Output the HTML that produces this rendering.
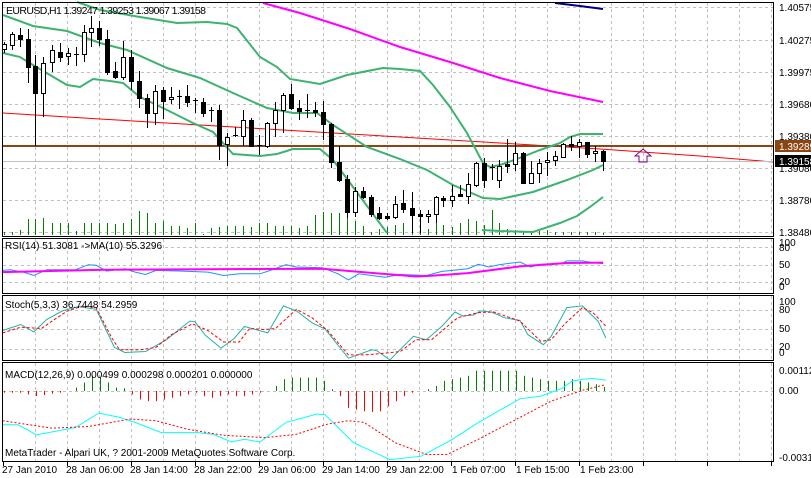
<!DOCTYPE html>
<html><head><meta charset="utf-8"><style>
html,body{margin:0;padding:0;background:#fff;}
svg{display:block;font-family:"Liberation Sans",sans-serif;font-size:10px;}
</style></head><body>
<svg id="s" width="811" height="478" xmlns="http://www.w3.org/2000/svg">
<rect x="0" y="0" width="811" height="478" fill="#fff"/>
<g id="grid"></g>
<g id="vol"></g>
<g id="lines"></g>
<g id="candles"></g>
<g id="ind"></g>
<g fill="none" stroke="#000" stroke-width="1">
<rect x="2.5" y="2.5" width="771" height="234"/>
<rect x="2.5" y="238.5" width="771" height="55"/>
<rect x="2.5" y="295.5" width="771" height="65"/>
<rect x="2.5" y="362.5" width="771" height="99"/>
</g>
<g fill="#000">
<text x="6" y="14" font-size="10.5" textLength="200">EURUSD,H1  1.39247 1.39253 1.39067 1.39158</text>
<text x="5" y="249">RSI(14) 51.3081  -&gt;MA(10) 55.3296</text>
<text x="5" y="308">Stoch(5,3,3) 36.7448 54.2959</text>
<text x="5" y="378">MACD(12,26,9) 0.000499 0.000298 0.000201 0.000000</text>
<text x="5" y="456">MetaTrader - Alpari UK, ? 2001-2009 MetaQuotes Software Corp.</text>
<text x="779" y="11">1.40575</text>
<text x="779" y="44">1.40275</text>
<text x="779" y="76">1.39975</text>
<text x="779" y="108">1.39680</text>
<text x="779" y="140">1.39380</text>
<text x="779" y="172">1.39080</text>
<text x="779" y="204">1.38780</text>
<text x="779" y="236">1.38480</text>
<text x="779" y="246">100</text><text x="779" y="251">80</text><text x="779" y="268">50</text><text x="779" y="285">20</text><text x="779" y="290">0</text>
<text x="779" y="305">100</text><text x="779" y="313">80</text><text x="779" y="332">50</text><text x="779" y="350">20</text><text x="779" y="356">0</text>
<text x="779" y="374">0.00112</text>
<text x="779" y="394">0.00</text>
<text x="779" y="461">-0.00317</text>
</g>
<rect x="775" y="140" width="36" height="12" fill="#8b4513"/>
<text x="779" y="150" fill="#fff">1.39289</text>
<rect x="775" y="155" width="36" height="12" fill="#000"/>
<text x="779" y="165" fill="#fff">1.39158</text>
<g fill="#000" font-size="10">
<text x="2" y="473">27 Jan 2010</text>
<text x="66" y="473">28 Jan 06:00</text>
<text x="130" y="473">28 Jan 14:00</text>
<text x="194" y="473">28 Jan 22:00</text>
<text x="258" y="473">29 Jan 06:00</text>
<text x="322" y="473">29 Jan 14:00</text>
<text x="386" y="473">29 Jan 22:00</text>
<text x="452" y="473">1 Feb 07:00</text>
<text x="516" y="473">1 Feb 15:00</text>
<text x="580" y="473">1 Feb 23:00</text>
</g>
<path d="M639 162 v-6 h-4 l8 -7 l8 7 h-4 v6 z" fill="none" stroke="#800080" stroke-width="1"/>
</svg>
<script>
var NS="http://www.w3.org/2000/svg";
function el(p,t,a){var e=document.createElementNS(NS,t);for(var k in a)e.setAttribute(k,a[k]);document.getElementById(p).appendChild(e);return e;}
function pl(p,pts,col,w,dash){el(p,"polyline",{points:pts.map(function(q){return q[0]+","+q[1]}).join(" "),fill:"none",stroke:col,"stroke-width":w||1,"stroke-dasharray":dash||"none"});}
var g="#c0c0c0";
for(var x=35;x<=771;x+=32){
 [[3,236],[239,293],[296,360],[363,461]].forEach(function(r){el("grid","line",{x1:x+.5,y1:r[0],x2:x+.5,y2:r[1],stroke:g,"stroke-dasharray":"3,3"});});
}
[7,40,72,104,136,168,200,232].forEach(function(y){el("grid","line",{x1:3,y1:y+.5,x2:773,y2:y+.5,stroke:g,"stroke-dasharray":"3,3"});});
[247,265,282,310,329,349,391].forEach(function(y){el("grid","line",{x1:3,y1:y+.5,x2:773,y2:y+.5,stroke:g,"stroke-dasharray":"3,3"});});
for(var x=3;x<=771;x+=64){el("grid","line",{x1:x+.5,y1:462,x2:x+.5,y2:466,stroke:"#000"});}
var C=[[4,44,49,42,53,1],[12,34,45,32,50,1],[20,35,39,28,47,0],[28,39,67,29,83,0],[35,66,93,55,146,0],[43,63,93,57,117,1],[52,50,62,45,72,1],[60,52,57,43,62,0],[68,53,56,48,65,1],[76,54,55,47,66,0],[84,32,54,25,62,1],[91,28,32,16,47,1],[99,28,39,21,46,0],[107,39,72,30,75,0],[115,71,77,62,79,0],[123,57,77,41,80,1],[131,57,81,50,90,0],[139,81,98,71,108,0],[147,98,113,94,128,0],[155,91,113,85,125,1],[163,90,101,87,119,0],[171,97,99,87,104,1],[179,96,97,90,109,0],[187,96,102,85,107,0],[195,100,101,98,113,0],[203,102,113,98,117,0],[211,110,110,107,122,0],[219,110,145,105,160,0],[227,137,144,133,166,1],[235,135,136,127,137,0],[243,120,136,110,146,1],[251,120,146,118,146,0],[259,145,146,135,155,0],[267,123,146,122,148,1],[275,110,123,102,137,1],[283,95,110,93,133,1],[291,94,108,84,110,0],[299,108,111,100,120,0],[307,110,110,94,118,0],[315,110,112,102,117,0],[323,112,124,101,140,0],[331,124,162,123,168,0],[339,162,180,146,182,0],[347,179,212,175,218,0],[355,191,212,187,217,1],[363,191,197,187,199,0],[371,197,214,195,217,0],[379,213,218,207,220,0],[387,216,218,213,220,0],[395,204,217,196,219,1],[403,203,209,190,213,0],[412,208,215,192,233,0],[420,214,216,210,233,0],[428,214,216,210,223,1],[436,197,214,196,223,1],[443,198,200,196,207,0],[452,196,200,185,207,1],[460,194,196,185,197,0],[468,184,196,173,204,1],[476,163,185,162,187,1],[484,163,180,158,188,0],[492,167,168,164,180,0],[499,166,180,160,188,1],[507,164,166,139,173,0],[515,153,164,142,171,1],[523,153,183,152,184,0],[531,173,183,161,184,1],[539,163,173,159,183,1],[547,160,162,152,176,1],[555,156,160,151,166,1],[563,144,157,143,157,1],[571,144,146,136,151,0],[579,142,146,139,158,1],[587,142,154,142,158,0],[595,151,153,146,162,1],[603,151,161,150,171,0]];
var V=[3,3,5,16,16,17,12,12,12,4,12,12,12,12,11,12,16,24,22,12,14,9,9,7,12,1,7,8,9,9,9,8,12,12,9,9,9,7,9,20,23,22,22,19,14,9,3,6,8,10,12,16,12,6,12,10,8,12,16,14,10,25,12,6,5,4,4,4,5,3,3,3,3,3,3,2];
C.forEach(function(c,i){var h=V[i]||4;el("vol","line",{x1:c[0]+.5,y1:235,x2:c[0]+.5,y2:235-h,stroke:"#008000"});});
pl("lines",[[3,113],[100,119],[200,125],[300,131],[400,137],[500,143],[600,149],[700,156],[773,162]],"#ff0000",1);
el("lines","line",{x1:3,y1:146,x2:773,y2:146,stroke:"#8b4513","stroke-width":2});
el("lines","line",{x1:3,y1:161.5,x2:773,y2:161.5,stroke:"#c0c0c0"});
pl("lines",[[263,3],[300,13],[350,29],[400,47],[450,62],[500,78],[550,91],[603,102]],"#ff00ff",2);
pl("lines",[[555,3],[580,6],[603,9]],"#00008b",2);
var G="#3cb371";
pl("lines",[[3,15],[33,26],[67,31],[100,43],[127,50],[167,68],[200,78],[233,93],[267,108],[293,113],[317,113],[333,125],[367,147],[400,159],[427,170],[453,185],[483,198],[500,199],[533,192],[567,180],[593,170],[603,165]],G,2);
pl("lines",[[77,2],[100,10],[140,17],[177,23],[207,22],[227,24],[237,28],[260,57],[277,67],[290,79],[320,84],[347,75],[383,68],[400,69],[420,71],[433,85],[450,107],[467,133],[483,163],[490,167],[500,165],[517,159],[540,150],[560,143],[570,137],[580,134],[603,134]],G,2);
pl("lines",[[3,53],[20,57],[33,65],[67,85],[80,87],[93,79],[110,81],[123,83],[140,97],[167,110],[193,123],[213,132],[233,154],[260,156],[277,154],[293,149],[320,149],[333,160],[353,187],[387,233]],G,2);
pl("lines",[[482,230],[500,231],[533,232],[560,223],[577,216],[590,207],[603,197]],G,2);
C.forEach(function(c){
 el("candles","line",{x1:c[0]+.5,y1:c[3],x2:c[0]+.5,y2:c[4],stroke:"#000"});
 var h=Math.max(1,c[2]-c[1]);
 if(h<=1){el("candles","line",{x1:c[0]-2,y1:c[1]+.5,x2:c[0]+3,y2:c[1]+.5,stroke:"#000"});}
 else el("candles","rect",{x:c[0]-2+.5,y:c[1]+.5,width:4,height:h,fill:c[5]?"#fff":"#000",stroke:"#000"});
});
function cv(a){return a.map(function(p){return [+(p[0]/1.923).toFixed(1),+(p[1]/2.96+240).toFixed(1)]});}
pl("ind",cv([[5,90],[20,88],[45,95],[65,105],[90,88],[145,88],[170,73],[185,75],[205,92],[240,85],[260,95],[280,102],[300,90],[350,92],[400,95],[430,105],[460,100],[500,100],[520,90],[550,73],[570,80],[620,82],[650,100],[670,118],[690,100],[740,110],[770,102],[820,105],[850,93],[870,90],[900,85],[920,72],[940,80],[960,73],[1000,65],[1020,80],[1040,72],[1080,70],[1090,62],[1120,62],[1140,67],[1160,70]]),"#1e90ff",1);
pl("ind",cv([[5,95],[200,88],[620,85],[760,103],[800,108],[830,106],[900,98],[1000,78],[1090,68],[1160,67]]),"#ff00ff",2);
pl("ind",cv([[5,268],[40,250],[65,272],[90,235],[120,210],[150,197],[185,205],[220,318],[240,333],[280,330],[320,295],[365,240],[375,242],[395,282],[425,320],[450,292],[470,256],[515,275],[545,195],[570,210],[600,245],[625,263],[670,350],[715,325],[725,328],[750,355],[795,285],[820,295],[850,255],[875,213],[890,225],[910,222],[925,210],[945,213],[970,230],[1000,238],[1015,280],[1045,310],[1060,285],[1090,200],[1120,195],[1135,218],[1150,240],[1165,290]]),"#20b2aa",1);
pl("ind",cv([[5,275],[40,258],[80,262],[100,240],[130,210],[160,195],[185,200],[215,290],[230,325],[270,325],[300,318],[330,280],[370,248],[400,268],[430,302],[460,302],[480,262],[510,265],[530,262],[570,205],[600,230],[630,268],[670,340],[700,340],[740,335],[770,330],[800,295],[830,295],[880,230],[920,215],[950,213],[1000,240],[1040,300],[1060,295],[1085,250],[1120,200],[1140,215],[1165,255]]),"#ff0000",1,"3,2");
var H=[-5,-5,-5,-10,-15,-12,-8,-5,0,10,25,45,40,25,10,8,-10,-25,-30,-30,-25,-20,-15,-10,-5,-15,-20,-15,-10,-15,-15,-10,-5,0,15,35,40,40,40,40,30,5,-15,-50,-55,-60,-62,-60,-45,-30,-15,-5,0,5,15,30,35,40,45,60,60,60,60,60,60,45,40,35,30,30,30,35,30,25,20,12];
H.forEach(function(v,i){if(!v)return;var x=4+8*i+.5;el("ind","line",{x1:x,y1:391,x2:x,y2:391-v/2.96,stroke:v>0?"#008000":"#ff0000"});});
pl("ind",cv([[5,547],[35,547],[70,577],[145,555],[190,512],[230,525],[260,540],[310,570],[380,570],[410,575],[445,598],[470,590],[500,598],[550,540],[610,515],[625,517],[680,600],[750,650],[810,640],[870,590],[920,540],[960,505],[1000,470],[1040,462],[1080,440],[1100,418],[1120,412],[1140,410],[1165,415]]),"#00ffff",1);
pl("ind",cv([[5,535],[100,557],[170,552],[250,530],[300,535],[360,560],[430,578],[510,585],[570,575],[630,545],[670,535],[700,540],[760,600],[820,635],[860,635],[920,590],[1000,525],[1060,477],[1120,445],[1165,428]]),"#ff0000",1,"2,2");
</script>
</body></html>
